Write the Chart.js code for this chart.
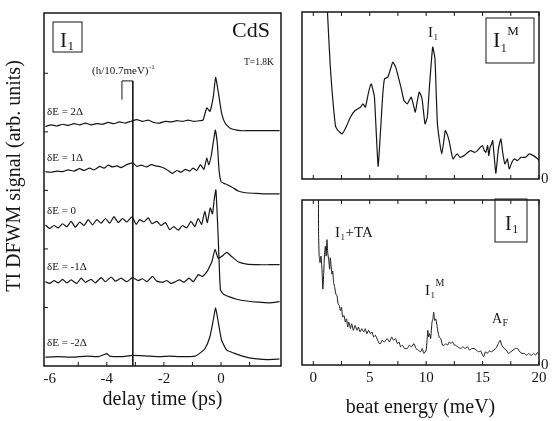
<!DOCTYPE html>
<html>
<head>
<meta charset="utf-8">
<script src="https://cdn.jsdelivr.net/npm/chart.js@4"></script>
<style>
  body { margin: 0; background: #fff; }
  #wrap { position: relative; width: 552px; height: 421px; background: #fff; }
  .box { position: absolute; }
</style>
</head>
<body>
<div id="wrap">
  <div class="box" style="left:0;top:0;width:290px;height:421px"><canvas id="delay"></canvas></div>
  <div class="box" style="left:290px;top:0;width:262px;height:190px"><canvas id="fftTop"></canvas></div>
  <div class="box" style="left:290px;top:189px;width:262px;height:232px"><canvas id="fftBottom"></canvas></div>
</div>
<script>
// delay-time traces, [ps, signal + offset]
const delayTicks = [-6, -4, -2, 0];
const energyTicks = [0, 5, 10, 15, 20];

const traceP2 = [[-6.15,4.09],[-5.95,4.12],[-5.75,4.10],[-5.55,4.13],[-5.35,4.11],[-5.15,4.14],[-4.95,4.12],[-4.75,4.15],[-4.55,4.12],[-4.35,4.14],[-4.15,4.13],[-3.95,4.16],[-3.75,4.14],[-3.55,4.17],[-3.35,4.15],[-3.15,4.18],[-2.95,4.21],[-2.75,4.18],[-2.55,4.20],[-2.35,4.16],[-2.15,4.15],[-1.95,4.18],[-1.75,4.17],[-1.55,4.19],[-1.35,4.18],[-1.15,4.20],[-0.95,4.18],[-0.75,4.19],[-0.63,4.20],[-0.5,4.41],[-0.39,4.35],[-0.27,4.60],[-0.19,4.93],[-0.09,4.66],[0.02,4.32],[0.14,4.15],[0.32,4.06],[0.67,4.02],[1.0,4.02],[1.4,4.02],[1.7,4.02],[2.05,4.02]];

const traceP1 = [[-6.15,3.32],[-5.95,3.31],[-5.75,3.33],[-5.55,3.32],[-5.35,3.35],[-5.15,3.33],[-4.95,3.37],[-4.8,3.34],[-4.6,3.38],[-4.45,3.35],[-4.25,3.41],[-4.1,3.38],[-3.95,3.43],[-3.8,3.40],[-3.65,3.42],[-3.5,3.39],[-3.3,3.44],[-3.1,3.47],[-2.95,3.41],[-2.8,3.43],[-2.6,3.40],[-2.45,3.44],[-2.3,3.42],[-2.1,3.40],[-1.95,3.37],[-1.8,3.32],[-1.7,3.29],[-1.55,3.34],[-1.4,3.31],[-1.25,3.36],[-1.1,3.33],[-0.98,3.38],[-0.85,3.34],[-0.72,3.44],[-0.6,3.36],[-0.5,3.55],[-0.43,3.44],[-0.34,3.60],[-0.26,3.86],[-0.2,4.03],[-0.13,3.80],[-0.07,3.35],[0.0,3.15],[0.1,3.12],[0.2,3.10],[0.4,3.05],[0.6,2.99],[0.85,2.96],[1.2,2.95],[1.6,2.94],[2.05,2.94]];

const traceZero = [[-6.15,2.41],[-6.0,2.35],[-5.85,2.40],[-5.7,2.36],[-5.55,2.43],[-5.4,2.38],[-5.25,2.47],[-5.1,2.37],[-4.95,2.46],[-4.8,2.40],[-4.65,2.50],[-4.5,2.41],[-4.35,2.50],[-4.2,2.44],[-4.05,2.52],[-3.9,2.44],[-3.75,2.55],[-3.6,2.45],[-3.45,2.52],[-3.3,2.46],[-3.12,2.55],[-2.97,2.42],[-2.85,2.50],[-2.7,2.46],[-2.55,2.53],[-2.42,2.43],[-2.25,2.47],[-2.1,2.40],[-1.95,2.45],[-1.8,2.33],[-1.65,2.38],[-1.5,2.32],[-1.35,2.40],[-1.2,2.36],[-1.05,2.47],[-0.92,2.38],[-0.8,2.52],[-0.68,2.42],[-0.57,2.64],[-0.48,2.45],[-0.38,2.70],[-0.3,2.60],[-0.24,2.84],[-0.18,3.01],[-0.11,2.32],[-0.07,1.81],[-0.02,1.30],[0.1,1.22],[0.3,1.18],[0.55,1.14],[0.9,1.11],[1.3,1.09],[1.7,1.08],[2.05,1.10]];

const traceM1 = [[-6.15,1.44],[-6.0,1.41],[-5.85,1.46],[-5.7,1.42],[-5.55,1.48],[-5.4,1.42],[-5.25,1.47],[-5.05,1.41],[-4.9,1.50],[-4.75,1.43],[-4.55,1.48],[-4.4,1.42],[-4.2,1.51],[-4.05,1.44],[-3.85,1.52],[-3.7,1.45],[-3.5,1.50],[-3.3,1.44],[-3.1,1.51],[-2.9,1.46],[-2.75,1.49],[-2.6,1.44],[-2.4,1.53],[-2.25,1.45],[-2.05,1.43],[-1.9,1.46],[-1.75,1.41],[-1.6,1.44],[-1.45,1.47],[-1.3,1.43],[-1.12,1.50],[-0.97,1.44],[-0.8,1.56],[-0.65,1.53],[-0.48,1.62],[-0.4,1.70],[-0.32,1.78],[-0.21,1.99],[-0.1,1.84],[0.02,1.87],[0.2,1.94],[0.37,1.87],[0.6,1.78],[0.9,1.74],[1.3,1.73],[1.7,1.73],[2.05,1.73]];

const traceM2 = [[-6.15,0.15],[-5.7,0.16],[-5.2,0.15],[-4.7,0.17],[-4.3,0.16],[-4.0,0.21],[-3.9,0.17],[-3.5,0.16],[-3.1,0.18],[-2.6,0.17],[-2.2,0.16],[-1.8,0.17],[-1.4,0.16],[-0.9,0.17],[-0.74,0.22],[-0.56,0.30],[-0.39,0.50],[-0.27,0.79],[-0.19,0.99],[-0.09,0.73],[0.02,0.44],[0.2,0.27],[0.45,0.22],[0.75,0.17],[1.1,0.13],[1.6,0.11],[2.05,0.12]];

// (h/10.7 meV)^-1 marker
const periodMark = [[-3.47,4.55],[-3.47,4.87],[-3.09,4.87],[-3.09,0]];

// beat-energy spectra, [meV, amplitude]
const spectrumM = [[1.22,1.05],[1.5,0.68],[1.96,0.32],[2.2,0.29],[2.55,0.27],[2.9,0.31],[3.29,0.37],[3.7,0.41],[4.18,0.43],[4.4,0.45],[4.62,0.43],[4.9,0.52],[5.13,0.57],[5.3,0.53],[5.42,0.49],[5.6,0.25],[5.75,0.076],[5.96,0.29],[6.15,0.5],[6.31,0.60],[6.6,0.61],[6.85,0.66],[7.05,0.70],[7.3,0.67],[7.5,0.62],[7.8,0.54],[8.03,0.47],[8.33,0.45],[8.5,0.47],[8.68,0.49],[8.85,0.45],[9.04,0.40],[9.2,0.46],[9.39,0.52],[9.55,0.50],[9.66,0.47],[9.9,0.33],[10.1,0.37],[10.3,0.56],[10.58,0.79],[10.78,0.72],[10.9,0.5],[11.0,0.33],[11.2,0.22],[11.38,0.15],[11.55,0.22],[11.7,0.29],[11.85,0.27],[12.03,0.23],[12.2,0.17],[12.38,0.12],[12.6,0.14],[12.77,0.15],[13.0,0.13],[13.36,0.14],[13.7,0.16],[13.96,0.17],[14.3,0.16],[14.55,0.17],[14.8,0.19],[15.0,0.2],[15.15,0.17],[15.29,0.16],[15.45,0.2],[15.55,0.14],[15.67,0.19],[15.8,0.21],[15.9,0.23],[16.05,0.12],[16.18,0.035],[16.4,0.18],[16.62,0.24],[16.8,0.15],[16.98,0.09],[17.2,0.12],[17.36,0.06],[17.6,0.1],[17.8,0.12],[18.1,0.11],[18.4,0.13],[18.8,0.13],[19.14,0.15],[19.5,0.14],[19.9,0.12],[20,0.11]];

const spectrumI1 = [[0.45,1.1],[0.47,0.8],[0.52,0.66],[0.6,0.62],[0.68,0.66],[0.77,0.58],[0.85,0.46],[0.92,0.55],[1.0,0.68],[1.07,0.72],[1.14,0.66],[1.21,0.76],[1.28,0.68],[1.36,0.64],[1.45,0.58],[1.5,0.65],[1.57,0.61],[1.65,0.55],[1.72,0.57],[1.8,0.50],[1.9,0.47],[2.0,0.43],[2.1,0.42],[2.2,0.37],[2.3,0.36],[2.4,0.33],[2.5,0.35],[2.6,0.29],[2.72,0.30],[2.84,0.26],[2.95,0.28],[3.05,0.23],[3.15,0.26],[3.29,0.22],[3.4,0.25],[3.55,0.21],[3.7,0.24],[3.88,0.21],[4.0,0.23],[4.15,0.20],[4.3,0.22],[4.47,0.20],[4.6,0.22],[4.75,0.19],[4.9,0.21],[5.07,0.19],[5.2,0.2],[5.35,0.17],[5.5,0.18],[5.7,0.15],[5.85,0.13],[5.96,0.13],[6.1,0.15],[6.3,0.14],[6.55,0.16],[6.75,0.14],[6.95,0.17],[7.1,0.15],[7.29,0.16],[7.45,0.13],[7.6,0.14],[7.73,0.11],[7.9,0.12],[8.1,0.10],[8.33,0.10],[8.5,0.12],[8.7,0.11],[8.92,0.13],[9.1,0.10],[9.3,0.09],[9.51,0.08],[9.65,0.10],[9.8,0.07],[10.0,0.09],[10.08,0.15],[10.15,0.21],[10.22,0.17],[10.3,0.19],[10.4,0.16],[10.52,0.26],[10.6,0.28],[10.67,0.32],[10.75,0.27],[10.85,0.28],[10.96,0.24],[11.05,0.2],[11.15,0.17],[11.3,0.16],[11.45,0.12],[11.6,0.12],[11.75,0.13],[11.9,0.12],[12.05,0.14],[12.18,0.13],[12.35,0.14],[12.5,0.12],[12.6,0.12],[12.8,0.11],[13.07,0.10],[13.25,0.11],[13.45,0.10],[13.66,0.11],[13.85,0.09],[14.05,0.10],[14.25,0.10],[14.45,0.09],[14.65,0.08],[14.84,0.085],[15.0,0.06],[15.1,0.05],[15.25,0.08],[15.4,0.07],[15.6,0.085],[15.8,0.08],[16.0,0.09],[16.18,0.10],[16.4,0.13],[16.56,0.15],[16.7,0.12],[16.92,0.10],[17.1,0.09],[17.3,0.07],[17.5,0.08],[17.7,0.09],[17.9,0.10],[18.1,0.10],[18.3,0.08],[18.5,0.07],[18.7,0.07],[18.9,0.06],[19.1,0.07],[19.3,0.057],[19.5,0.07],[19.7,0.06],[19.85,0.075],[20,0.065]];

const INK = "#161616";
const SERIF = '"Liberation Serif", "DejaVu Serif", serif';
Chart.defaults.font.family = SERIF;
Chart.defaults.color = INK;

const pts = (arr) => arr.map(([x, y]) => ({ x, y }));
const line = (arr, w, tension) => ({
  data: pts(arr),
  borderColor: INK,
  borderWidth: w || 1.2,
  pointRadius: 0,
  tension: tension === undefined ? 0.15 : tension,
  fill: false,
});

// frame, inward tick marks and the text labels inside the panels
const deco = {
  id: "deco",
  afterDatasetsDraw(chart, args, o) {
    const { ctx, chartArea: a, scales } = chart;
    ctx.save();
    ctx.strokeStyle = INK;
    ctx.fillStyle = INK;
    ctx.lineWidth = 1.5;
    ctx.strokeRect(a.left, a.top, a.right - a.left, a.bottom - a.top);
    ctx.lineWidth = 1;
    (o.xTicks || []).forEach((v) => {
      const px = scales.x.getPixelForValue(v);
      ctx.beginPath();
      ctx.moveTo(px, a.bottom);
      ctx.lineTo(px, a.bottom - o.tickLen);
      if (o.topTicks) {
        ctx.moveTo(px, a.top);
        ctx.lineTo(px, a.top + o.tickLen);
      }
      ctx.stroke();
    });
    (o.yTicks || []).forEach((v) => {
      const py = scales.y.getPixelForValue(v);
      ctx.beginPath();
      ctx.moveTo(a.left, py);
      ctx.lineTo(a.left + o.tickLen, py);
      ctx.stroke();
    });
    (o.boxes || []).forEach((b) => ctx.strokeRect(b[0] - o.dx, b[1] - o.dy, b[2], b[3]));
    ctx.textAlign = "left";
    ctx.textBaseline = "alphabetic";
    (o.labels || []).forEach((l) => {
      let x = l.x - o.dx;
      const y = l.y - o.dy;
      l.runs.forEach(([txt, size, shift]) => {
        ctx.font = size + "px " + SERIF;
        ctx.fillText(txt, x, y + shift);
        x += ctx.measureText(txt).width + 0.5;
      });
    });
    if (o.yTitle) {
      const t = o.yTitle;
      ctx.translate(t.x, t.y);
      ctx.rotate(-Math.PI / 2);
      ctx.textAlign = "center";
      ctx.textBaseline = "middle";
      ctx.font = t.size + "px " + SERIF;
      ctx.fillText(t.text, 0, 0);
    }
    ctx.restore();
  },
};
Chart.register(deco);

const fixTicks = (vals) => (s) => { s.ticks = vals.map((value) => ({ value })); };

new Chart(document.getElementById("delay"), {
  type: "line",
  data: {
    datasets: [
      line(traceP2), line(traceP1), line(traceZero), line(traceM1), line(traceM2),
      line(periodMark, 1, 0),
    ],
  },
  options: {
    responsive: true,
    maintainAspectRatio: false,
    animation: false,
    layout: { padding: { top: 13, right: 9 } },
    plugins: {
      legend: { display: false },
      tooltip: { enabled: false },
      deco: {
        dx: 0, dy: 0, tickLen: 4,
        xTicks: [-5, -4, -3, -2, -1, 0, 1],
        yTicks: [1, 2, 3, 4, 5],
        boxes: [[53, 22, 29, 30]],
        yTitle: { text: "TI DFWM signal (arb. units)", x: 15, y: 176, size: 20 },
        labels: [
          { x: 60, y: 47, runs: [["I", 21, 0], ["1", 13, 3]] },
          { x: 232, y: 37, runs: [["CdS", 22, 0]] },
          { x: 244, y: 65, runs: [["T=1.8K", 9.5, 0]] },
          { x: 92, y: 74, runs: [["(h/10.7meV)", 11, 0], ["-1", 7, -5]] },
          { x: 47, y: 115, runs: [["\u03b4E = 2\u0394", 11, 0]] },
          { x: 47, y: 161, runs: [["\u03b4E = 1\u0394", 11, 0]] },
          { x: 47, y: 214, runs: [["\u03b4E = 0", 11, 0]] },
          { x: 47, y: 270, runs: [["\u03b4E = -1\u0394", 11, 0]] },
          { x: 47, y: 346, runs: [["\u03b4E = -2\u0394", 11, 0]] },
        ],
      },
    },
    scales: {
      x: {
        type: "linear", min: -6.2, max: 2.1,
        afterBuildTicks: fixTicks(delayTicks),
        afterFit: (s) => { s.height = 55; },
        grid: { display: false, drawTicks: false },
        border: { display: false },
        ticks: { padding: 4, font: { size: 15 } },
        title: { display: true, text: "delay time (ps)", font: { size: 20 }, padding: { bottom: 9 } },
      },
      y: {
        min: 0, max: 6.03,
        afterFit: (s) => { s.width = 44; },
        grid: { display: false, drawTicks: false },
        border: { display: false },
        ticks: { display: false },
      },
    },
  },
});

const energyMinor = [0, 2.5, 5, 7.5, 10, 12.5, 15, 17.5, 20];

new Chart(document.getElementById("fftTop"), {
  type: "line",
  data: { datasets: [line(spectrumM)] },
  options: {
    responsive: true,
    maintainAspectRatio: false,
    animation: false,
    layout: { padding: { top: 12, left: 12, bottom: 7 } },
    plugins: {
      legend: { display: false },
      tooltip: { enabled: false },
      deco: {
        dx: 290, dy: 0, tickLen: 4, topTicks: true,
        xTicks: energyMinor,
        boxes: [[486, 18, 48, 45]],
        labels: [
          { x: 493, y: 47, runs: [["I", 22, 0], ["1", 12, 5], ["M", 13, -12]] },
          { x: 428, y: 37, runs: [["I", 15, 0], ["1", 9, 3]] },
        ],
      },
    },
    scales: {
      x: { type: "linear", min: -1, max: 20, display: false },
      y: {
        position: "right", min: 0, max: 1,
        afterBuildTicks: fixTicks([0]),
        afterFit: (s) => { s.width = 13; },
        grid: { display: false, drawTicks: false },
        border: { display: false },
        ticks: { padding: 2, font: { size: 15 } },
      },
    },
  },
});

new Chart(document.getElementById("fftBottom"), {
  type: "line",
  data: { datasets: [line(spectrumI1, 1)] },
  options: {
    responsive: true,
    maintainAspectRatio: false,
    animation: false,
    layout: { padding: { top: 1, left: 12 } },
    plugins: {
      legend: { display: false },
      tooltip: { enabled: false },
      deco: {
        dx: 290, dy: 189, tickLen: 4, topTicks: true,
        xTicks: energyMinor,
        boxes: [[495, 199, 32, 43]],
        labels: [
          { x: 505, y: 230, runs: [["I", 20, 0], ["1", 12, 3]] },
          { x: 335, y: 237, runs: [["I", 15, 0], ["1", 9, 3], ["+TA", 15, 0]] },
          { x: 425, y: 295, runs: [["I", 15, 0], ["1", 9, 3], ["M", 10, -9]] },
          { x: 492, y: 323, runs: [["A", 14, 0], ["F", 10, 3]] },
        ],
      },
    },
    scales: {
      x: {
        type: "linear", min: -1, max: 20,
        afterBuildTicks: fixTicks(energyTicks),
        afterFit: (s) => { s.height = 56; },
        grid: { display: false, drawTicks: false },
        border: { display: false },
        ticks: { padding: 4, font: { size: 15 } },
        title: { display: true, text: "beat energy (meV)", font: { size: 20 }, padding: { bottom: 1 } },
      },
      y: {
        position: "right", min: 0, max: 1,
        afterBuildTicks: fixTicks([0]),
        afterFit: (s) => { s.width = 13; },
        grid: { display: false, drawTicks: false },
        border: { display: false },
        ticks: { padding: 2, font: { size: 15 } },
      },
    },
  },
});
</script>
</body>
</html>
